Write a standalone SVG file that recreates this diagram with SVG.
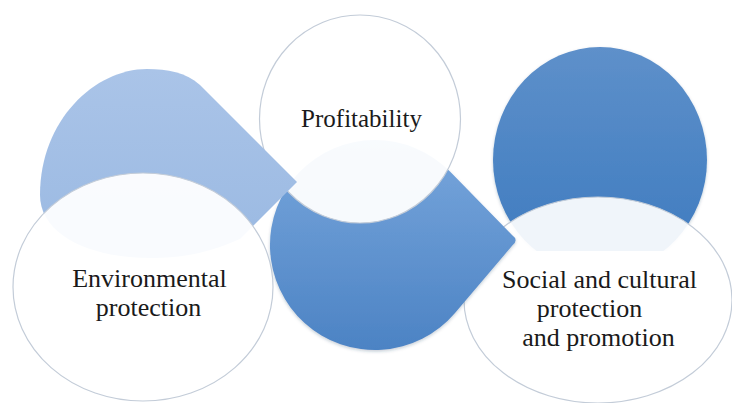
<svg xmlns="http://www.w3.org/2000/svg" width="732" height="403" viewBox="0 0 732 403">
  <style>
    .lbl { font-family: "Liberation Serif", "Times New Roman", serif; font-size: 26px; fill: #1a1a1a; text-anchor: middle; }
    .disc { fill: #ffffff; fill-opacity: 0.92; stroke: #c3ccd8; stroke-width: 1.2; }
    .blob { filter: url(#shadow); }
  </style>
  <defs>
    <linearGradient id="gLight" x1="0" y1="0" x2="0" y2="1">
      <stop offset="0" stop-color="#aac4e8"/>
      <stop offset="1" stop-color="#9ab9e2"/>
    </linearGradient>
    <linearGradient id="gMid" x1="0" y1="0" x2="0" y2="1">
      <stop offset="0" stop-color="#78a6dc"/>
      <stop offset="1" stop-color="#4c83c4"/>
    </linearGradient>
    <linearGradient id="gDark" x1="0" y1="0" x2="0" y2="1">
      <stop offset="0" stop-color="#5e90ca"/>
      <stop offset="1" stop-color="#3c7abf"/>
    </linearGradient>
    <filter id="shadow" x="-10%" y="-10%" width="125%" height="125%">
      <feDropShadow dx="0" dy="1.5" stdDeviation="1.5" flood-color="#1f3a5f" flood-opacity="0.25"/>
    </filter>
  </defs>

  <rect width="732" height="403" fill="#ffffff"/>

  <g id="node-social">
    <ellipse class="blob" cx="600" cy="160" rx="107" ry="113" fill="url(#gDark)"/>
    <ellipse class="disc" cx="598" cy="300" rx="134" ry="103"/>
    <rect x="499" y="251" width="200" height="100" fill="#ffffff"/>
    <text class="lbl" x="599.5" y="288">Social and cultural</text>
    <text class="lbl" x="589.5" y="317">protection</text>
    <text class="lbl" x="598.5" y="346">and promotion</text>
  </g>

  <g id="node-profitability">
    <path class="blob" d="M512,235 L450,171.6 A105,105 0 1 0 455,313 L512.5,245.3 Q519,240 512,235 Z" fill="url(#gMid)"/>
    <ellipse class="disc" cx="360" cy="119" rx="100.5" ry="104" style="fill-opacity:0.95"/>
    <text class="lbl" x="361.5" y="127" style="font-size:25px">Profitability</text>
  </g>

  <g id="node-environmental">
    <path d="M297,182 L200,85 C185,72 168,69 147,69 C95,69 40,120 40,195 C40,235 90,258 150,258 C190,258 215,250 240,239 Z" fill="url(#gLight)"/>
    <ellipse class="disc" cx="143" cy="287" rx="130" ry="114" style="fill-opacity:0.94"/>
    <text class="lbl" x="149.5" y="287">Environmental</text>
    <text class="lbl" x="148.5" y="316">protection</text>
  </g>

  <g id="connectors"></g>
</svg>
